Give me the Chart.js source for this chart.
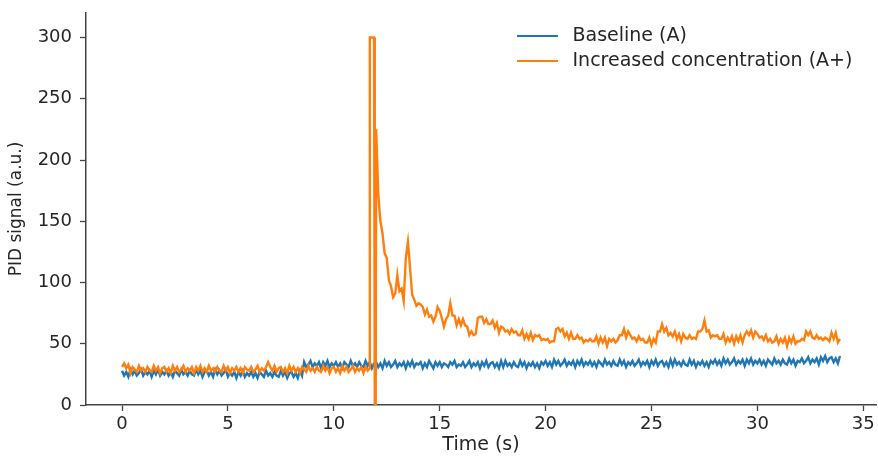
<!DOCTYPE html>
<html><head><meta charset="utf-8">
<script src="https://cdn.jsdelivr.net/npm/chart.js@4/dist/chart.umd.min.js"></script>
<style>html,body{margin:0;padding:0;background:#fff}canvas{display:block}</style>
</head><body>
<canvas id="c" width="878" height="456"></canvas>
<script>
// ---- data ----
const time = [
0.0,0.1,0.2,0.3,0.4,0.5,0.6,0.7,0.8,0.9,1.0,1.1,1.2,1.3,1.4,1.5,1.6,1.7,1.8,1.9,
2.0,2.1,2.2,2.3,2.4,2.5,2.6,2.7,2.8,2.9,3.0,3.1,3.2,3.3,3.4,3.5,3.6,3.7,3.8,3.9,
4.0,4.1,4.2,4.3,4.4,4.5,4.6,4.7,4.8,4.9,5.0,5.1,5.2,5.3,5.4,5.5,5.6,5.7,5.8,5.9,
6.0,6.1,6.2,6.3,6.4,6.5,6.6,6.7,6.8,6.9,7.0,7.1,7.2,7.3,7.4,7.5,7.6,7.7,7.8,7.9,
8.0,8.1,8.2,8.3,8.4,8.5,8.6,8.7,8.8,8.9,9.0,9.1,9.2,9.3,9.4,9.5,9.6,9.7,9.8,9.9,
10.0,10.1,10.2,10.3,10.4,10.5,10.6,10.7,10.8,10.9,11.0,11.1,11.2,11.3,11.4,11.5,11.6,11.7,11.8,11.9,
12.0,12.1,12.2,12.3,12.4,12.5,12.6,12.7,12.8,12.9,13.0,13.1,13.2,13.3,13.4,13.5,13.6,13.7,13.8,13.9,
14.0,14.1,14.2,14.3,14.4,14.5,14.6,14.7,14.8,14.9,15.0,15.1,15.2,15.3,15.4,15.5,15.6,15.7,15.8,15.9,
16.0,16.1,16.2,16.3,16.4,16.5,16.6,16.7,16.8,16.9,17.0,17.1,17.2,17.3,17.4,17.5,17.6,17.7,17.8,17.9,
18.0,18.1,18.2,18.3,18.4,18.5,18.6,18.7,18.8,18.9,19.0,19.1,19.2,19.3,19.4,19.5,19.6,19.7,19.8,19.9,
20.0,20.1,20.2,20.3,20.4,20.5,20.6,20.7,20.8,20.9,21.0,21.1,21.2,21.3,21.4,21.5,21.6,21.7,21.8,21.9,
22.0,22.1,22.2,22.3,22.4,22.5,22.6,22.7,22.8,22.9,23.0,23.1,23.2,23.3,23.4,23.5,23.6,23.7,23.8,23.9,
24.0,24.1,24.2,24.3,24.4,24.5,24.6,24.7,24.8,24.9,25.0,25.1,25.2,25.3,25.4,25.5,25.6,25.7,25.8,25.9,
26.0,26.1,26.2,26.3,26.4,26.5,26.6,26.7,26.8,26.9,27.0,27.1,27.2,27.3,27.4,27.5,27.6,27.7,27.8,27.9,
28.0,28.1,28.2,28.3,28.4,28.5,28.6,28.7,28.8,28.9,29.0,29.1,29.2,29.3,29.4,29.5,29.6,29.7,29.8,29.9,
30.0,30.1,30.2,30.3,30.4,30.5,30.6,30.7,30.8,30.9,31.0,31.1,31.2,31.3,31.4,31.5,31.6,31.7,31.8,31.9,
32.0,32.1,32.2,32.3,32.4,32.5,32.6,32.7,32.8,32.9,33.0,33.1,33.2,33.3,33.4,33.5,33.6,33.7,33.8,33.9
];
const baseline = [
28,24,27,23,29,25,28,24,26,29,24,27,25,28,23,28,25,29,24,27,
25,28,24,27,23,28,26,24,29,25,27,24,28,25,24,29,25,28,23,27,
28,24,27,23,29,25,28,24,26,29,23,26,24,27,22,27,24,28,23,26,
24,27,23,26,22,27,25,23,28,24,26,23,27,24,23,28,24,27,22,26,
27,23,26,22,28,24,35,31,33,36,31,34,32,35,30,35,32,36,31,34,
32,35,31,34,30,35,33,31,36,32,34,31,35,32,31,36,32,35,30,34,
35,31,34,30,36,32,35,31,33,36,31,34,32,35,30,35,32,36,31,34,
33,35,30,34,31,36,33,30,35,32,35,31,34,33,31,35,33,36,31,33,
32,35,31,33,36,31,34,32,35,30,35,32,36,31,34,35,31,34,30,36,
31,36,32,34,31,35,32,31,36,32,35,30,34,32,35,31,34,30,35,33,
36,32,35,31,37,33,36,32,34,37,32,35,33,36,31,36,33,37,32,35,
33,36,32,35,31,36,34,32,37,33,35,32,36,33,32,37,33,36,31,35,
33,36,32,34,37,32,35,33,36,31,36,33,37,32,35,36,32,35,31,37,
32,37,33,35,32,36,33,32,37,33,36,31,35,33,36,32,35,31,36,34,
37,33,36,32,38,34,37,33,35,38,33,36,34,37,32,37,34,38,33,36,
34,37,33,36,32,37,35,33,38,34,36,33,37,34,33,38,34,37,32,36,
35,38,34,36,39,34,37,35,38,33,39,36,40,35,38,39,35,38,34,40
];
const increased = [
31,34,30,33,26,31,29,27,32,28,30,27,31,28,27,32,28,31,26,30,
31,27,30,26,32,28,31,27,29,32,27,30,28,31,26,31,28,32,27,30,
27,32,28,30,27,31,28,27,32,28,31,26,30,28,31,27,30,26,31,29,
28,31,27,29,32,27,30,28,31,35,31,28,32,27,30,31,27,30,26,32,
28,31,27,30,26,31,29,27,32,28,30,27,31,28,27,32,28,31,26,30,
31,27,30,26,32,28,31,27,29,32,27,30,28,31,26,31,28,300,300,300,
225,172,150,140,124,120,102,97,88,91,106,93,95,85,120,133,112,90,86,81,
83,82,80,74,78,72,73,68,72,80,77,71,64,70,73,83,73,73,65,70,
65,70,65,64,57,60,57,58,71,72,72,67,70,66,66,69,63,67,59,64,
63,60,61,58,62,59,60,57,57,61,54,58,54,59,53,57,56,57,53,54,
53,54,51,52,52,62,63,60,62,56,59,54,59,54,54,57,54,55,51,53,
52,54,52,52,56,50,55,51,55,48,54,52,54,51,53,57,57,62,55,60,
57,54,55,52,56,53,54,51,51,55,49,54,51,60,60,66,60,63,57,59,
56,60,54,58,52,58,55,54,57,54,55,54,60,60,62,69,60,61,55,57,
56,57,54,54,58,51,55,52,56,50,56,52,57,51,57,60,57,61,55,60,
58,55,56,53,57,52,54,51,52,56,50,54,51,55,48,55,51,56,50,52,
52,54,53,60,57,60,55,54,57,54,55,53,55,54,52,59,54,59,51,54
];
// extra samples at the saturated pulse edges
const spikeTime = [11.69, 11.93, 11.94, 11.98];
const spikeSignal = [30, 300, 0, 0];

const xTicks = [0, 5, 10, 15, 20, 25, 30, 35];
const yTicks = [0, 50, 100, 150, 200, 250, 300];
const seriesNames = ['Baseline (A)', 'Increased concentration (A+)'];
const seriesColors = ['#1f77b4', '#ff7f0e'];

// ---- build ----
const basePts = time.map((t, i) => ({x: t, y: baseline[i]}));
const incPts = time.map((t, i) => ({x: t, y: increased[i]}))
  .concat(spikeTime.map((t, i) => ({x: t, y: spikeSignal[i]})))
  .sort((a, b) => a.x - b.x);

function legendLine(color) {
  const c = document.createElement('canvas');
  c.width = 46; c.height = 4;
  const g = c.getContext('2d');
  g.fillStyle = color;
  g.fillRect(0, 1, 41, 2);
  return c;
}

Chart.defaults.font.family = "'DejaVu Sans', sans-serif";
const TXT = '#262626';
const AX = '#444';

const legendPlacer = {
  id: 'legendPlacer',
  afterLayout(chart) {
    const lg = chart.legend;
    if (!lg) return;
    lg.left = 511; lg.top = 20.5; lg.right = 876; lg.bottom = 130;
  }
};

new Chart(document.getElementById('c'), {
  type: 'line',
  data: {
    datasets: [
      {label: seriesNames[0], data: basePts, borderColor: seriesColors[0], backgroundColor: seriesColors[0],
       borderWidth: 2.4, pointRadius: 0, pointStyle: legendLine(seriesColors[0]), tension: 0, order: 1},
      {label: seriesNames[1], data: incPts, borderColor: seriesColors[1], backgroundColor: seriesColors[1],
       borderWidth: 2.4, pointRadius: 0, pointStyle: legendLine(seriesColors[1]), tension: 0, order: 0}
    ]
  },
  options: {
    responsive: false,
    animation: false,
    devicePixelRatio: 1,
    layout: {padding: {top: 13, right: 2, left: 0, bottom: 0}},
    plugins: {
      tooltip: {enabled: false},
      legend: {
        position: 'chartArea',
        align: 'start',
        labels: {
          usePointStyle: true,
          pointStyleWidth: 46,
          padding: 6,
          color: TXT,
          font: {size: 19},
          sort: (a, b) => a.datasetIndex - b.datasetIndex
        }
      }
    },
    scales: {
      x: {
        type: 'linear',
        min: -1.7, max: 35.6,
        afterBuildTicks: s => { s.ticks = xTicks.map(v => ({value: v})); },
        afterFit: s => { s.height = 51; s.paddingLeft = 0; s.paddingRight = 0; },
        ticks: {color: TXT, font: {size: 18}, padding: 3, maxRotation: 0},
        grid: {display: true, drawOnChartArea: false, drawTicks: true, tickLength: 6, tickColor: AX, tickWidth: 1.3},
        border: {display: true, color: AX, width: 1.5},
        title: {display: true, text: 'Time (s)', color: TXT, font: {size: 19}, padding: {top: 0, bottom: 0}}
      },
      y: {
        type: 'linear',
        min: 0, max: 320,
        afterBuildTicks: s => { s.ticks = yTicks.map(v => ({value: v})); },
        afterFit: s => { s.width = 86; s.paddingTop = 0; s.paddingBottom = 0; },
        ticks: {color: TXT, font: {size: 18}, padding: 8},
        grid: {display: true, drawOnChartArea: false, drawTicks: true, tickLength: 6, tickColor: AX, tickWidth: 1.3},
        border: {display: true, color: AX, width: 1.5},
        title: {display: true, text: 'PID signal (a.u.)', color: TXT, font: {size: 17}, padding: {top: 6, bottom: 0}}
      }
    }
  },
  plugins: [legendPlacer]
});
</script>
</body></html>
